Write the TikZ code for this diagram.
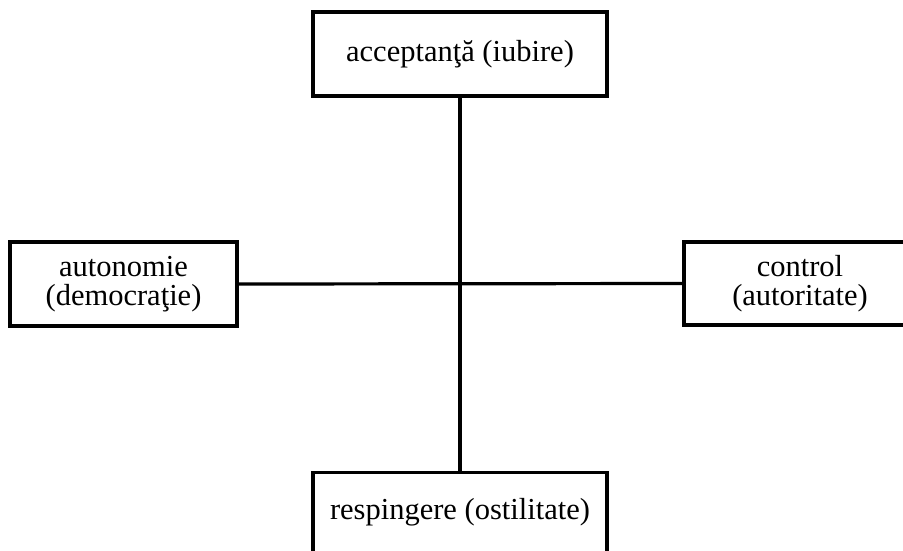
\documentclass[tikz,border=0pt]{standalone}
\usepackage{fontspec}
\setmainfont{Liberation Serif}
\begin{document}
\begin{tikzpicture}[x=1pt,y=-1pt,
  box/.style={draw=black, line width=3.2pt, fill=white, inner sep=0pt, minimum width=#1},
  lbl/.style={font=\fontsize{30.5}{29}\selectfont, align=center, inner sep=0pt, text=black},
  link/.style={draw=black, line width=3.2pt}]
\useasboundingbox (0,0) rectangle (903,550);
\clip (0,0) rectangle (903,550);
% boxes
\node[box=294pt, minimum height=84pt] (top) at (460,54) {};
\node[box=227pt, minimum height=84pt] (left) at (123.5,284) {};
\node[box=232pt, minimum height=83pt] (right) at (800,283.5) {};
\node[box=294pt, minimum height=160pt, anchor=north] (bot) at (460,471) {};
% connectors
\draw[link] (top.south) -- (bot.north);
\draw[link] (left.east) -- (right.west);
% texts
\node[lbl] (toptxt) at (top.center) {acceptanţă (iubire)};
\node[lbl] (lefttxt) at (left.center) {autonomie\\(democraţie)};
\node[lbl] (righttxt) at (right.center) {control\\(autoritate)};
\node[lbl] (bottxt) at (460,512) {respingere (ostilitate)};
\end{tikzpicture}
\end{document}
